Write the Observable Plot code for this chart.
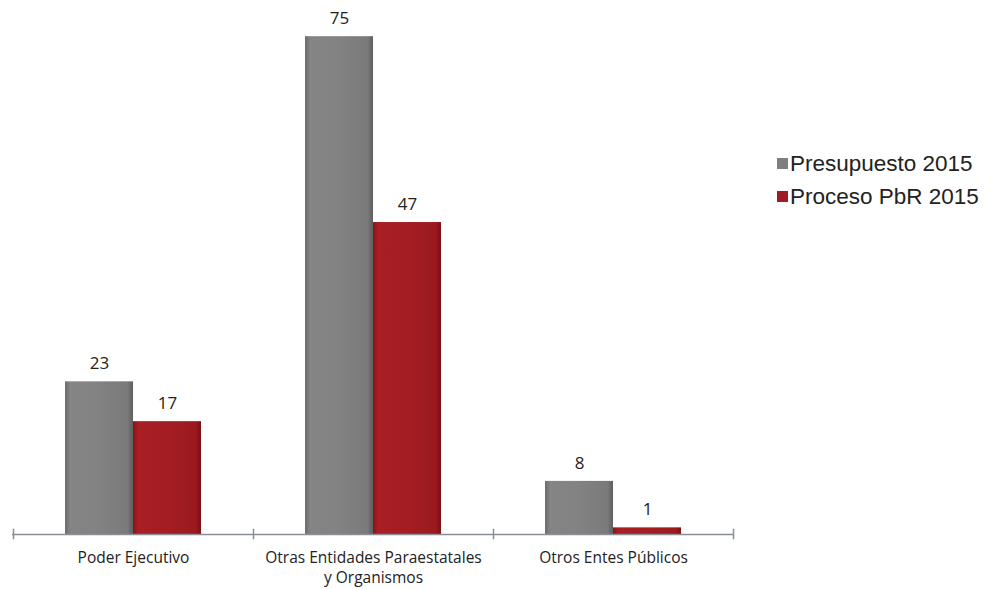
<!DOCTYPE html>
<html>
<head>
<meta charset="utf-8">
<script src="https://cdn.jsdelivr.net/npm/d3@7"></script>
<script src="https://cdn.jsdelivr.net/npm/@observablehq/plot@0.6"></script>
<style>
  body { margin: 0; background: #fff; }
  #wrap { position: relative; width: 992px; height: 589px; }
  #legend { position: absolute; left: 777px; top: 147px; font-family: "Liberation Sans", Arial, sans-serif; font-size: 22.5px; color: #222; }
  #legend div { display: flex; align-items: center; height: 33px; white-space: nowrap; }
  #legend span.sw { display: inline-block; width: 11px; height: 11px; margin-right: 2px; }
</style>
</head>
<body>
<div id="wrap">
  <div id="chart"></div>
  <div id="legend"></div>
</div>
<script>
const categories = ["Poder Ejecutivo", "Otras Entidades Paraestatales\ny Organismos", "Otros Entes Públicos"];
const seriesNames = ["Presupuesto 2015", "Proceso PbR 2015"];
const presupuesto = [23, 75, 8];
const proceso = [17, 47, 1];
const colors = ["#7f7f7f", "#a01c22"];

const dataP = categories.map((c, i) => ({cat: c, value: presupuesto[i]}));
const dataR = categories.map((c, i) => ({cat: c, value: proceso[i]}));

const chart = Plot.plot({
  width: 992,
  height: 589,
  marginLeft: 12,
  marginRight: 259,
  marginTop: 3,
  marginBottom: 55,
  style: {fontFamily: "'Open Sans', sans-serif", background: "white"},
  x: {domain: categories, padding: 0, axis: null},
  y: {domain: [0, 80], axis: null},
  marks: [
    Plot.barY(dataP, {x: "cat", y: "value", fill: colors[0], insetLeft: 52, insetRight: 120}),
    Plot.barY(dataR, {x: "cat", y: "value", fill: colors[1], insetLeft: 120, insetRight: 52}),
    Plot.ruleY([0], {stroke: "#8a8f96", strokeWidth: 1.5}),
    Plot.ruleX(categories.slice(0, 1), {x: d => d, y1: -0.8, y2: 0.8, dx: -120, stroke: "#8a8f96", strokeWidth: 1.5}),
    Plot.ruleX(categories, {x: d => d, y1: -0.8, y2: 0.8, dx: 120, stroke: "#8a8f96", strokeWidth: 1.5}),
    Plot.text(dataP, {x: "cat", y: "value", text: d => String(d.value), dx: -34, dy: -18, fontSize: 17, fill: "#222"}),
    Plot.text(dataR, {x: "cat", y: "value", text: d => String(d.value), dx: 34, dy: -18, fontSize: 17, fill: "#222"}),
    Plot.text(categories, {x: d => d, y: 0, text: d => d, dy: 14, lineAnchor: "top", fontSize: 15.5, lineHeight: 1.3, fill: "#222"})
  ]
});
document.getElementById("chart").appendChild(chart);

// gradient fills for a 3D look
const svg = d3.select(chart);
const defs = svg.insert("defs", ":first-child");
function grad(id, stops) {
  const g = defs.append("linearGradient").attr("id", id).attr("x1", "0").attr("x2", "1").attr("y1", "0").attr("y2", "0");
  stops.forEach(([o, c]) => g.append("stop").attr("offset", o).attr("stop-color", c));
}
grad("gGray", [[0, "#6c6c6c"], [0.08, "#858585"], [0.5, "#828282"], [0.92, "#7a7a7a"], [1, "#5e5e5e"]]);
grad("gRed", [[0, "#8a1418"], [0.08, "#a81e24"], [0.5, "#a41d23"], [0.92, "#9a1a20"], [1, "#7a1015"]]);
const barGroups = chart.querySelectorAll('g[aria-label="bar"]');
if (barGroups[0]) barGroups[0].setAttribute("fill", "url(#gGray)");
if (barGroups[1]) barGroups[1].setAttribute("fill", "url(#gRed)");

const legend = document.getElementById("legend");
seriesNames.forEach((s, i) => {
  const row = document.createElement("div");
  const sw = document.createElement("span");
  sw.className = "sw";
  sw.style.background = colors[i];
  row.appendChild(sw);
  row.appendChild(document.createTextNode(s));
  legend.appendChild(row);
});
</script>
</body>
</html>
